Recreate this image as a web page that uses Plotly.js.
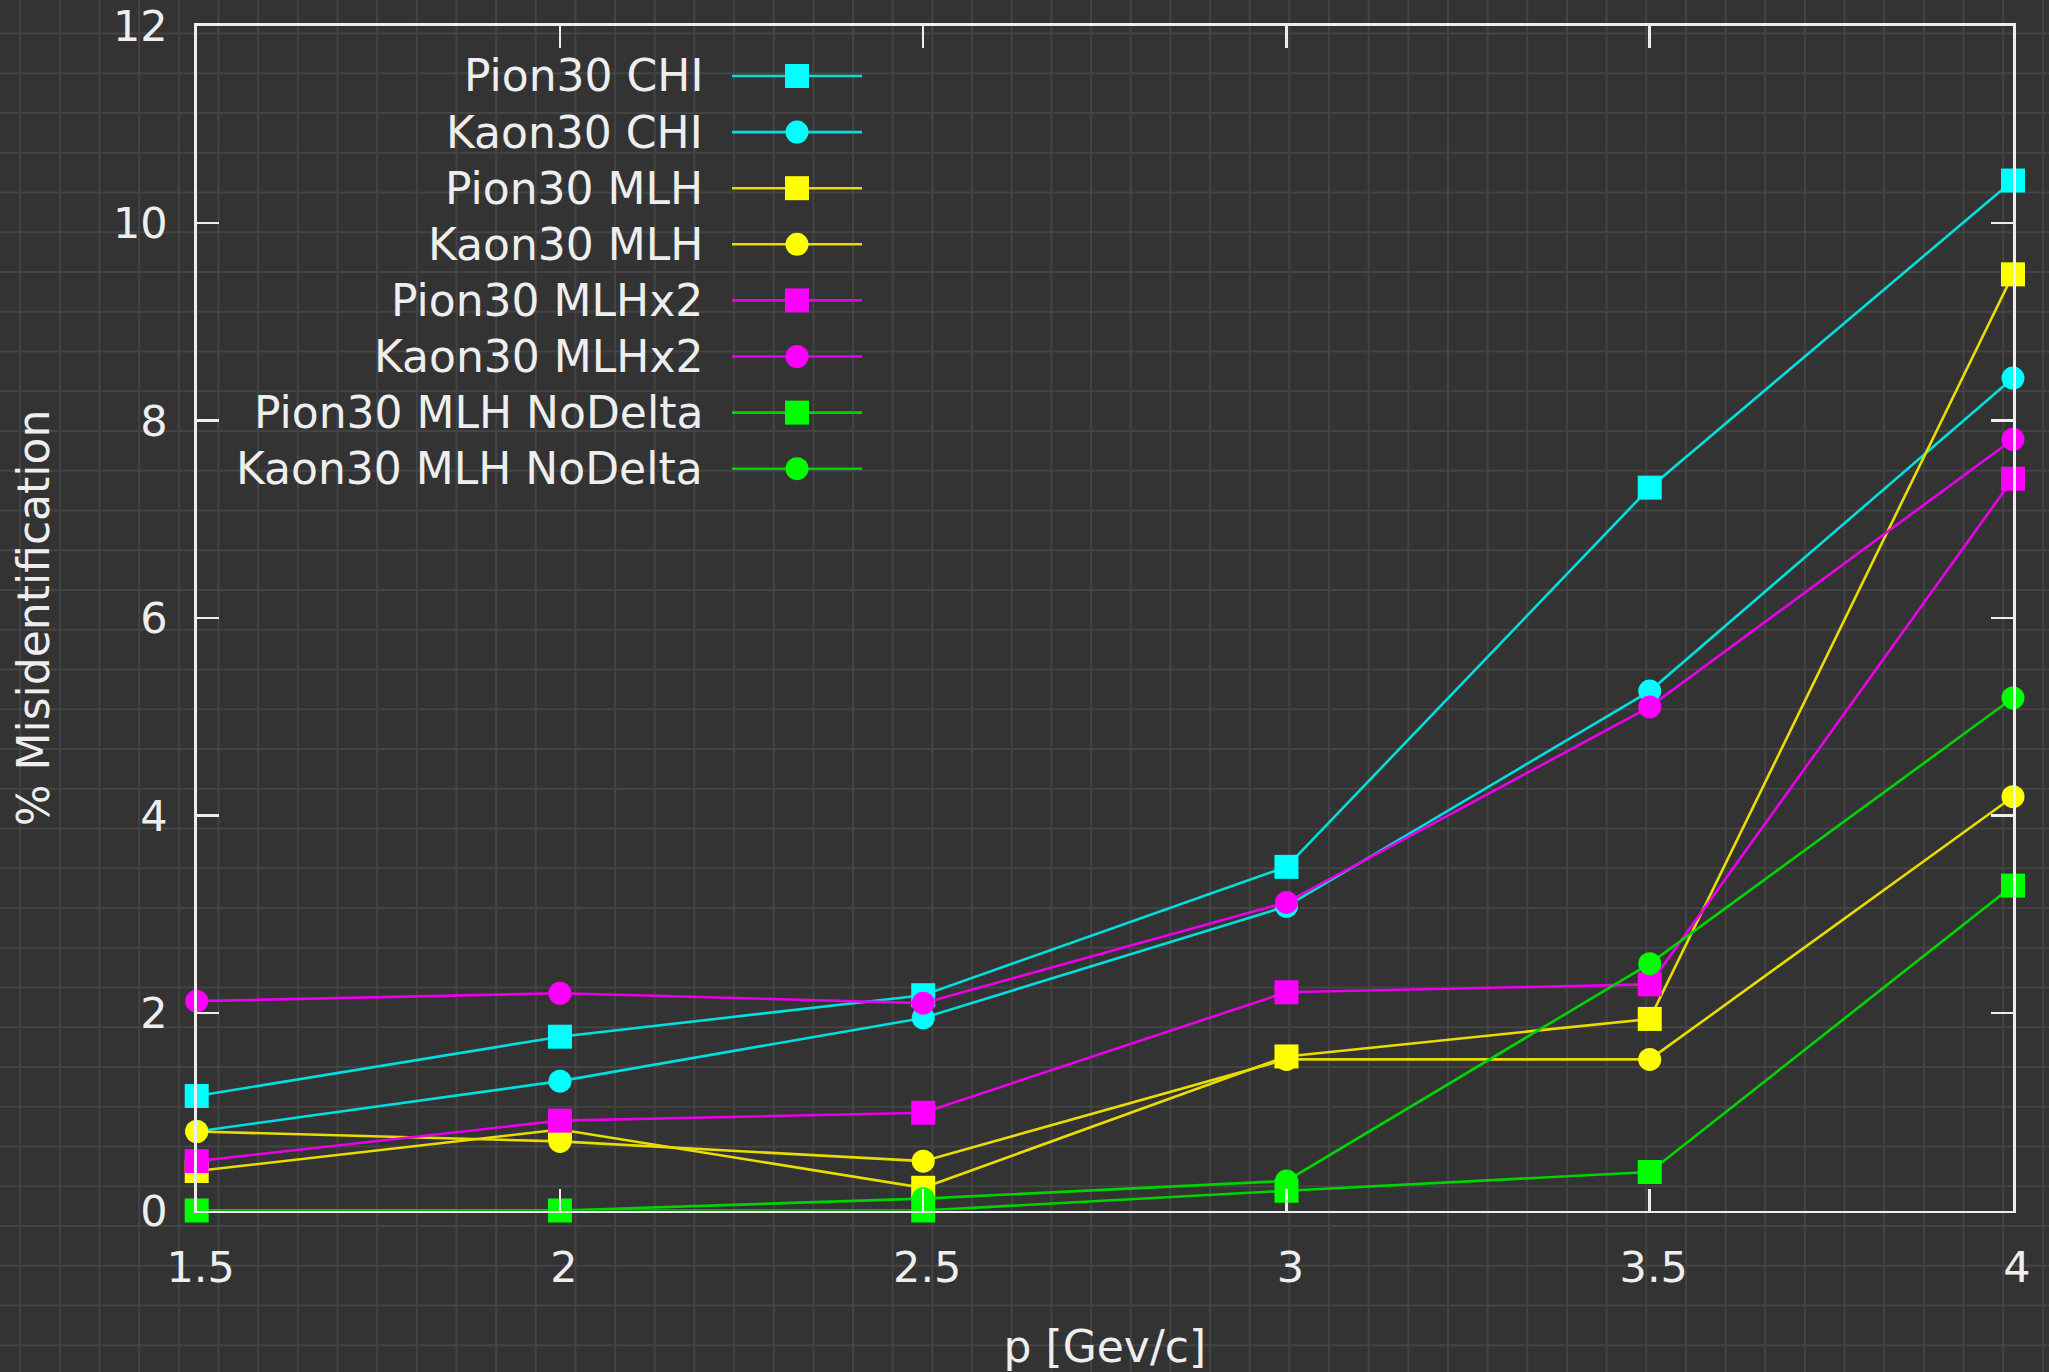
<!DOCTYPE html>
<html>
<head>
<meta charset="utf-8">
<script src="https://cdn.plot.ly/plotly-3.0.1.min.js"></script>
<style>
  html, body { margin: 0; padding: 0; background: #333333; }
  #chart { width: 2049px; height: 1372px; }
</style>
</head>
<body>
<div id="chart"></div>
<script>
// ---------------- data ----------------
const pValues = [1.5, 2, 2.5, 3, 3.5, 4];
const seriesNames = [
  'Pion30 CHI', 'Kaon30 CHI', 'Pion30 MLH', 'Kaon30 MLH',
  'Pion30 MLHx2', 'Kaon30 MLHx2', 'Pion30 MLH NoDelta', 'Kaon30 MLH NoDelta'
];
const pion30Chi        = [1.16, 1.76, 2.18, 3.48, 7.32, 10.43];
const kaon30Chi        = [0.80, 1.31, 1.95, 3.08, 5.26, 8.43];
const pion30Mlh        = [0.40, 0.82, 0.23, 1.56, 1.94, 9.48];
const kaon30Mlh        = [0.80, 0.70, 0.50, 1.53, 1.53, 4.19];
const pion30Mlhx2      = [0.50, 0.91, 0.99, 2.21, 2.29, 7.41];
const kaon30Mlhx2      = [2.12, 2.20, 2.10, 3.12, 5.10, 7.81];
const pion30MlhNoDelta = [0.00, 0.00, 0.00, 0.20, 0.39, 3.29];
const kaon30MlhNoDelta = [0.00, 0.00, 0.12, 0.30, 2.50, 5.19];
const xTickVals = [1.5, 2, 2.5, 3, 3.5, 4];
const xTickText = ['1.5', '2', '2.5', '3', '3.5', '4'];
const yTickVals = [0, 2, 4, 6, 8, 10, 12];
const yTickText = ['0', '2', '4', '6', '8', '10', '12'];

// ---------------- styles ----------------
const W = 2049, H = 1372;
const seriesValues = [pion30Chi, kaon30Chi, pion30Mlh, kaon30Mlh,
                      pion30Mlhx2, kaon30Mlhx2, pion30MlhNoDelta, kaon30MlhNoDelta];
const markerColors = ['#00ffff', '#00ffff', '#ffff00', '#ffff00', '#ff00ff', '#ff00ff', '#00ff00', '#00ff00'];
const lineColors   = ['#00dede', '#00dede', '#e8dc00', '#e8dc00', '#e800e8', '#e800e8', '#00d400', '#00d400'];
const symbols      = ['square', 'circle', 'square', 'circle', 'square', 'circle', 'square', 'circle'];
const markerSizes  = { square: 24, circle: 23 };
const textColor = '#eeeeee';
const fontFamily = 'DejaVu Sans, sans-serif';
const FS = 43;

// plot frame in pixels
const plotLeft = 196.7, plotRight = 2013, plotTop = 25.5, plotBottom = 1210.5;

// background pattern (pixels)
const bgGridX0 = 20.2, bgGridDX = 39.66, bgGridY0 = 33.6, bgGridDY = 39.75;

// key geometry (pixels)
const legTextRight = 705, legLineStart = 732, legMarker = 797, legLineEnd = 862;
const legRow0 = 76, legRowStep = 56.1;
const px = v => v / W;          // pixel -> paper x
const py = v => 1 - v / H;      // pixel -> paper y

const traces = [];

// data traces
seriesNames.forEach((name, i) => {
  traces.push({
    type: 'scatter', mode: 'lines+markers',
    name: name, x: pValues, y: seriesValues[i],
    line: { color: lineColors[i], width: 2.6 },
    marker: { symbol: symbols[i], size: markerSizes[symbols[i]], color: markerColors[i], line: { width: 0 } },
    cliponaxis: false, showlegend: false, hoverinfo: 'x+y+name'
  });
});

const shapes = [];
// background grid pattern covering the whole figure
for (let x = bgGridX0; x < W; x += bgGridDX) {
  shapes.push({ type: 'line', xref: 'paper', yref: 'paper', layer: 'below',
    x0: px(x), x1: px(x), y0: 0, y1: 1, line: { color: '#444444', width: 2 } });
}
for (let y = bgGridY0; y < H; y += bgGridDY) {
  shapes.push({ type: 'line', xref: 'paper', yref: 'paper', layer: 'below',
    x0: 0, x1: 1, y0: py(y), y1: py(y), line: { color: '#444444', width: 2 } });
}

// gnuplot-style key (text on the left, sample on the right)
const annotations = [];
seriesNames.forEach((name, i) => {
  const ry = legRow0 + i * legRowStep;
  const half = markerSizes[symbols[i]] / 2;
  shapes.push({
    type: 'line', xref: 'paper', yref: 'paper', layer: 'above',
    x0: px(legLineStart), x1: px(legLineEnd), y0: py(ry), y1: py(ry),
    line: { color: lineColors[i], width: 2.6 }
  });
  shapes.push({
    type: symbols[i] === 'square' ? 'rect' : 'circle',
    xref: 'paper', yref: 'paper', layer: 'above',
    x0: px(legMarker - half), x1: px(legMarker + half),
    y0: py(ry + half), y1: py(ry - half),
    fillcolor: markerColors[i], line: { width: 0 }
  });
  annotations.push({
    xref: 'paper', yref: 'paper', x: px(legTextRight), y: py(ry),
    xanchor: 'right', yanchor: 'middle', showarrow: false,
    text: name, font: { family: fontFamily, size: 44, color: textColor }
  });
});

const axisCommon = {
  ticks: 'inside', ticklen: 22, tickwidth: 2.5, tickcolor: textColor,
  showline: true, linecolor: textColor, linewidth: 2.5, mirror: 'ticks',
  showgrid: false, zeroline: false, layer: 'above traces',
  tickfont: { family: fontFamily, size: FS, color: textColor },
  fixedrange: true
};

const layout = {
  width: W, height: H,
  margin: { l: 0, r: 0, t: 0, b: 0, pad: 0 },
  paper_bgcolor: '#333333',
  plot_bgcolor: 'rgba(0,0,0,0)',
  showlegend: false,
  font: { family: fontFamily, size: FS, color: textColor },
  xaxis: Object.assign({}, axisCommon, {
    domain: [plotLeft / W, plotRight / W], range: [1.5, 4],
    tickmode: 'array', tickvals: xTickVals, ticktext: xTickText,
    ticklabelstandoff: 17, ticklabelshift: 4,
    title: { text: 'p [Gev/c]', font: { family: fontFamily, size: 44, color: textColor }, standoff: 53 }
  }),
  yaxis: Object.assign({}, axisCommon, {
    domain: [1 - plotBottom / H, 1 - plotTop / H], range: [0, 12],
    tickmode: 'array', tickvals: yTickVals, ticktext: yTickText,
    ticklabelstandoff: 18,
    title: { text: '% Misidentification', font: { family: fontFamily, size: 44, color: textColor }, standoff: 50 }
  }),
  shapes: shapes,
  annotations: annotations
};

Plotly.newPlot('chart', traces, layout, { displayModeBar: false, staticPlot: true });
</script>
</body>
</html>
